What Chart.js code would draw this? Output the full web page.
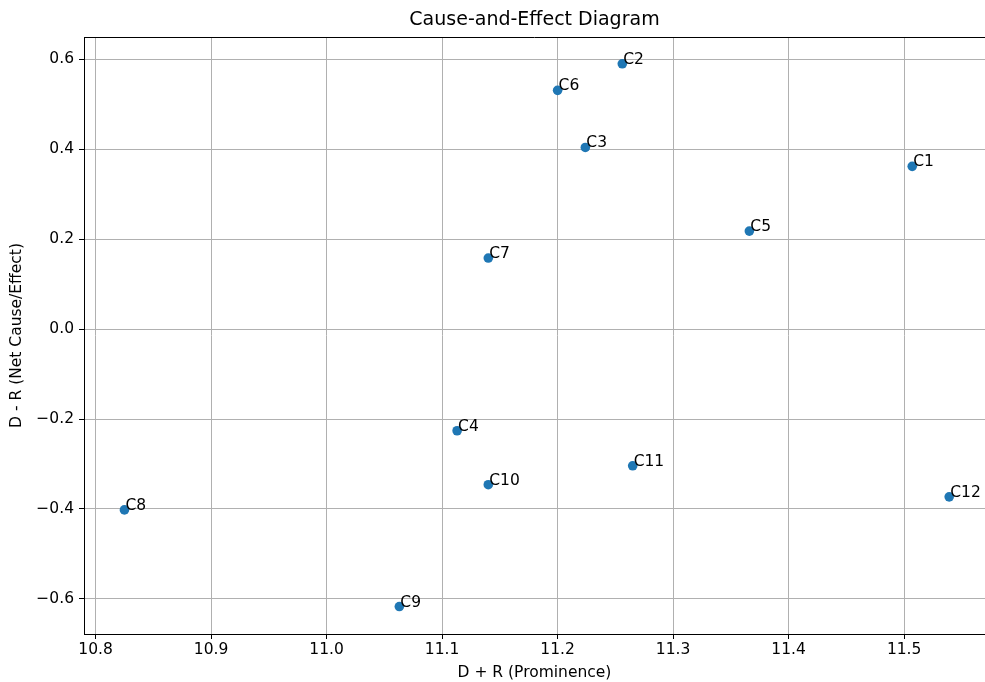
<!DOCTYPE html>
<html>
<head>
<meta charset="utf-8">
<script src="https://cdn.jsdelivr.net/npm/chart.js@4"></script>
<style>
  html, body { margin: 0; padding: 0; background: #fff; }
  #wrap { width: 985px; height: 682px; }
</style>
</head>
<body>
<div id="wrap"><canvas id="dematel" width="985" height="682"></canvas></div>
<script>
const labels = ['C1', 'C2', 'C3', 'C4', 'C5', 'C6', 'C7', 'C8', 'C9', 'C10', 'C11', 'C12'];
const prominence = [11.507, 11.256, 11.224, 11.113, 11.366, 11.200, 11.140, 10.825, 11.063, 11.140, 11.265, 11.539];
const relation = [0.362, 0.590, 0.404, -0.226, 0.218, 0.531, 0.158, -0.402, -0.617, -0.346, -0.304, -0.373];
const xTicks = [10.8, 10.9, 11.0, 11.1, 11.2, 11.3, 11.4, 11.5];
const yTicks = [-0.6, -0.4, -0.2, 0.0, 0.2, 0.4, 0.6];

const font = 'DejaVu Sans';
const fmt = v => v.toFixed(1).replace('-', '\u2212');

// point names + top spine
const extras = {
  id: 'extras',
  afterDatasetsDraw(chart) {
    const ctx = chart.ctx;
    const meta = chart.getDatasetMeta(0);
    ctx.save();
    ctx.fillStyle = '#000';
    ctx.font = '15.5px "' + font + '"';
    ctx.textAlign = 'left';
    ctx.textBaseline = 'alphabetic';
    meta.data.forEach((pt, i) => {
      ctx.fillText(labels[i], pt.x + 1, pt.y);
    });
    const a = chart.chartArea;
    ctx.strokeStyle = '#000';
    ctx.lineWidth = 1;
    ctx.beginPath();
    ctx.moveTo(a.left, a.top + 0.5);
    ctx.lineTo(a.right, a.top + 0.5);
    ctx.stroke();
    ctx.restore();
  }
};

new Chart(document.getElementById('dematel'), {
  type: 'scatter',
  data: {
    datasets: [{
      data: prominence.map((x, i) => ({ x: x, y: relation[i] })),
      backgroundColor: '#1f77b4',
      borderWidth: 0,
      pointRadius: 4.8,
      pointHoverRadius: 4.8
    }]
  },
  options: {
    responsive: false,
    animation: false,
    events: [],
    layout: { autoPadding: false, padding: 0 },
    plugins: {
      legend: { display: false },
      tooltip: { enabled: false },
      title: {
        display: true,
        text: 'Cause-and-Effect Diagram',
        fullSize: false,
        color: '#000',
        font: { family: font, size: 19, weight: 'normal' },
        padding: { top: 8.6, bottom: 5.6 }
      }
    },
    scales: {
      x: {
        type: 'linear',
        min: 10.790,
        max: 11.570,
        afterBuildTicks: s => { s.ticks = xTicks.map(v => ({ value: v })); },
        afterFit: s => { s.height = 48; s.paddingLeft = 0; s.paddingRight = 0; },
        grid: { color: '#b0b0b0', lineWidth: 1, tickColor: '#000', tickLength: 5 },
        border: { display: true, color: '#000', width: 1 },
        ticks: {
          color: '#000', padding: 2, maxRotation: 0,
          font: { family: font, size: 15.5 },
          callback: v => fmt(v)
        },
        title: {
          display: true,
          text: 'D + R (Prominence)',
          color: '#000',
          font: { family: font, size: 15.5 },
          padding: { top: 0, bottom: 0 }
        }
      },
      y: {
        type: 'linear',
        min: -0.678,
        max: 0.6496,
        afterBuildTicks: s => { s.ticks = yTicks.map(v => ({ value: v })); },
        afterFit: s => { s.width = 84; s.paddingTop = 0; s.paddingBottom = 0; },
        grid: { color: '#b0b0b0', lineWidth: 1, tickColor: '#000', tickLength: 5 },
        border: { display: true, color: '#000', width: 1 },
        ticks: {
          color: '#000', padding: 5,
          font: { family: font, size: 15.5 },
          callback: v => fmt(v)
        },
        title: {
          display: true,
          text: 'D - R (Net Cause/Effect)',
          color: '#000',
          font: { family: font, size: 15.5 },
          padding: { top: 7.7, bottom: 0 }
        }
      }
    }
  },
  plugins: [extras]
});
</script>
</body>
</html>
